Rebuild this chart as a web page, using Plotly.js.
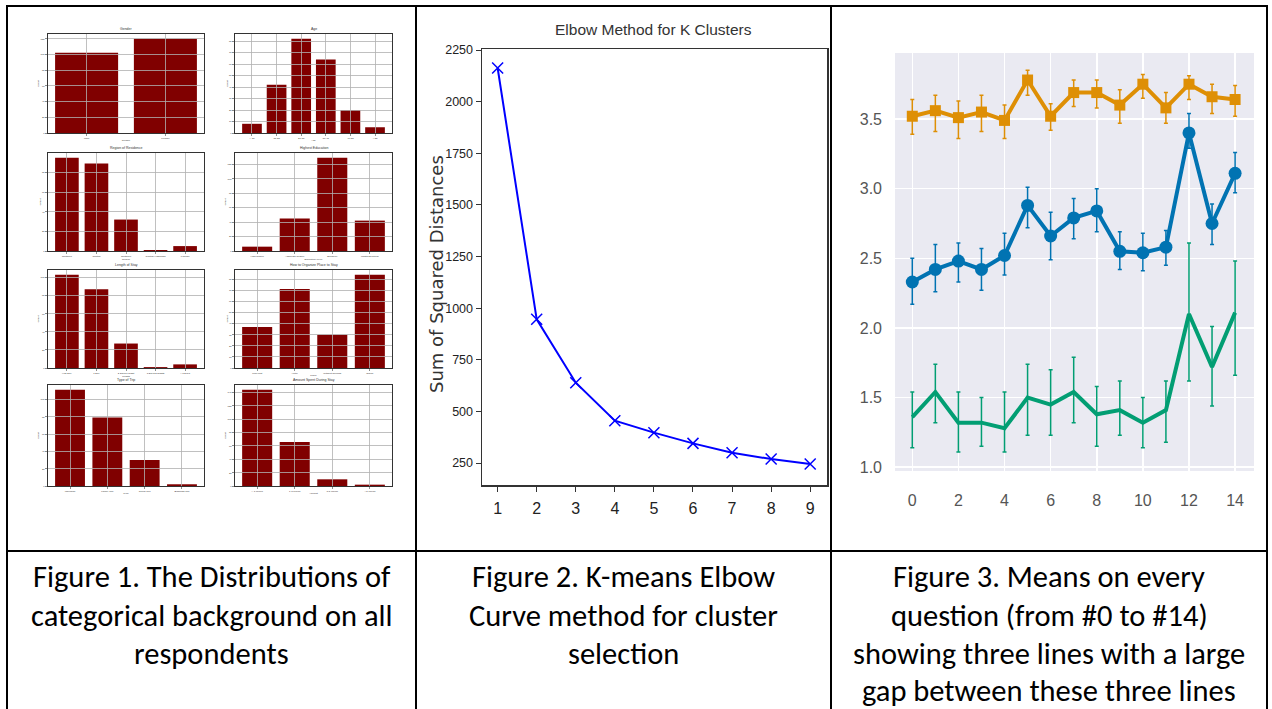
<!DOCTYPE html>
<html><head><meta charset="utf-8">
<script src="https://cdn.plot.ly/plotly-3.0.1.min.js"></script>
<style>html,body{margin:0;padding:0;background:#fff;overflow:hidden}#chart{width:1272px;height:709px}</style>
</head><body><div id="chart"></div>
<script>
// ---------- Figure 1 data (counts) ----------
const genderLabels = ['Male', 'Female'];
const genderCounts = [102, 120];
const ageLabels = ['< 18', '18-25', '26-35', '36-45', '46-55', '> 55'];
const ageCounts = [8, 42, 82, 64, 20, 5];
const regionLabels = ['Northern', 'Central', 'Southern', 'Central Highlands', 'Foreign'];
const regionCounts = [95, 89, 32, 1, 5];
const educationLabels = ['High School', 'Associate degree', 'Bachelor', 'Master/Doctoral'];
const educationCounts = [6, 45, 129, 42];
const stayLabels = ['Half Day', '1 Day', '2 Days/1 Night', '3 Days/2 Nights', '> 3 Days'];
const stayCounts = [103, 87, 27, 1, 4];
const placeLabels = ['Low-cost', 'Hotel', 'Without booking', 'Online'];
const placeCounts = [37, 71, 30, 84];
const tripLabels = ['Individual', 'Family Trip', 'Group Trip', 'Business Trip'];
const tripCounts = [111, 79, 30, 2];
const spendLabels = ['< 1 Million', '1-3 Million', '3-5 Million', '> 5 Million'];
const spendCounts = [144, 66, 10, 2];
const fig1Titles = ['Gender', 'Age', 'Region of Residence', 'Highest Education',
  'Length of Stay', 'How to Organize Place to Stay', 'Type of Trip', 'Amount Spent During Stay'];
const fig1XTitles = ['Gender', 'Age', 'Region', 'Education Level', 'Length', 'Place', 'Type', 'Amount'];

// ---------- Figure 2 data ----------
const kValues = [1, 2, 3, 4, 5, 6, 7, 8, 9];
const sseValues = [2163, 946, 639, 455, 397, 345, 300, 269, 245];
const elbowYTicks = [250, 500, 750, 1000, 1250, 1500, 1750, 2000, 2250];

// ---------- Figure 3 data ----------
const questions = [0,1,2,3,4,5,6,7,8,9,10,11,12,13,14];
const orangeMean  = [3.52,3.56,3.51,3.55,3.49,3.78,3.52,3.69,3.69,3.60,3.75,3.58,3.75,3.66,3.64];
const orangeUpper = [3.64,3.67,3.63,3.67,3.60,3.85,3.61,3.78,3.78,3.71,3.82,3.69,3.81,3.75,3.74];
const orangeLower = [3.39,3.41,3.36,3.41,3.36,3.67,3.42,3.59,3.58,3.47,3.65,3.47,3.64,3.54,3.52];
const blueMean  = [2.33,2.42,2.48,2.42,2.52,2.88,2.66,2.79,2.84,2.55,2.54,2.58,3.40,2.75,3.11];
const blueUpper = [2.50,2.60,2.61,2.57,2.68,3.01,2.83,2.93,3.00,2.69,2.68,2.70,3.54,2.89,3.26];
const blueLower = [2.17,2.26,2.33,2.27,2.38,2.72,2.49,2.64,2.69,2.42,2.41,2.45,3.29,2.60,2.97];
const greenMean  = [1.36,1.54,1.32,1.32,1.28,1.50,1.45,1.54,1.38,1.41,1.32,1.41,2.10,1.72,2.11];
const greenUpper = [1.54,1.74,1.54,1.50,1.54,1.74,1.70,1.79,1.58,1.62,1.50,1.62,2.61,2.01,2.48];
const greenLower = [1.14,1.32,1.11,1.15,1.11,1.23,1.23,1.32,1.15,1.23,1.14,1.18,1.62,1.44,1.66];

// ---------- Captions ----------
const caption1 = ['Figure 1. The Distributions of', 'categorical background on all', 'respondents'];
const caption2 = ['Figure 2. K-means Elbow', 'Curve method for cluster', 'selection'];
const caption3 = ['Figure 3. Means on every', 'question (from #0 to #14)', 'showing three lines with a large', 'gap between these three lines'];

// ---------- helpers ----------
const W = 1272, H = 709;
const px = x => x / W;
const py = y => 1 - y / H;
const SANS = '"Liberation Sans", Arial, sans-serif';
const CAPFONT = 'Carlito, Calibri, Lato, "Open Sans", sans-serif';

const panels = [
  [genderLabels, genderCounts, 20], [ageLabels, ageCounts, 10],
  [regionLabels, regionCounts, 20], [educationLabels, educationCounts, 20],
  [stayLabels, stayCounts, 20], [placeLabels, placeCounts, 10],
  [tripLabels, tripCounts, 20], [spendLabels, spendCounts, 20]
];
const colsPx = [[48, 204], [235, 392]];
const rowsPx = [[34, 133], [153, 251], [270, 368], [385, 486]];

const data = [];
const layout = {
  width: W, height: H, margin: {l: 0, r: 0, t: 0, b: 0},
  paper_bgcolor: '#ffffff', plot_bgcolor: 'rgba(0,0,0,0)',
  showlegend: false, font: {family: SANS, color: '#333'},
  shapes: [], annotations: []
};

panels.forEach((p, i) => {
  const [labels, counts, dt] = p;
  const n = labels.length;
  const idx = i + 1, gidx = i + 11;
  const c = colsPx[i % 2], r = rowsPx[Math.floor(i / 2)];
  const xs = labels.map((_, k) => k);
  const pad = 0.05 * (n - 0.2);
  const xr = [-0.4 - pad, n - 1 + 0.4 + pad];
  const ymax = Math.max(...counts) * 1.05;
  const yt = [];
  for (let v = dt; v < ymax; v += dt) yt.push(v);
  const xd = [px(c[0]), px(c[1])], yd = [py(r[1]), py(r[0])];
  data.push({type: 'bar', x: xs, y: counts, xaxis: 'x' + idx, yaxis: 'y' + idx,
    width: 0.8, marker: {color: '#800000', line: {width: 0}}, hoverinfo: 'skip'});
  data.push({type: 'scatter', x: [], y: [], xaxis: 'x' + gidx, yaxis: 'y' + gidx, hoverinfo: 'skip'});
  layout['xaxis' + idx] = {domain: xd, anchor: 'y' + idx, range: xr, tickmode: 'array',
    tickvals: xs, ticktext: labels, tickfont: {size: 2.5, color: '#333'}, ticks: 'outside',
    ticklen: 1.5, tickwidth: 0.6, showgrid: false, zeroline: false, showline: true, mirror: true,
    linecolor: '#333', linewidth: 1.3, title: {text: fig1XTitles[i], font: {size: 2.5}, standoff: 0}};
  layout['yaxis' + idx] = {domain: yd, anchor: 'x' + idx, range: [0, ymax], tick0: 0, dtick: dt,
    tickfont: {size: 2.5, color: '#333'}, ticks: 'outside', ticklen: 1.5, tickwidth: 0.6,
    showgrid: false, zeroline: false, showline: true, mirror: true, linecolor: '#333', linewidth: 1.3,
    title: {text: 'Count', font: {size: 2.5}, standoff: 1}};
  layout['xaxis' + gidx] = {domain: xd, anchor: 'y' + gidx, range: xr, tickmode: 'array', tickvals: xs,
    showticklabels: false, ticks: '', showgrid: true, gridcolor: '#b0b0b0', gridwidth: 0.8,
    zeroline: false, showline: false};
  layout['yaxis' + gidx] = {domain: yd, anchor: 'x' + gidx, range: [0, ymax], tickmode: 'array', tickvals: yt,
    showticklabels: false, ticks: '', showgrid: true, gridcolor: '#b0b0b0', gridwidth: 0.8,
    zeroline: false, showline: false};
  layout.annotations.push({xref: 'paper', yref: 'paper', x: px((c[0] + c[1]) / 2), y: py(r[0] - 1),
    xanchor: 'center', yanchor: 'bottom', showarrow: false, text: fig1Titles[i],
    font: {size: 3.5, color: '#333'}});
});

// ---------- Figure 2 ----------
data.push({type: 'scatter', mode: 'lines+markers', x: kValues, y: sseValues, xaxis: 'x9', yaxis: 'y9',
  line: {color: '#0000ff', width: 2}, marker: {symbol: 'x-thin', size: 11, color: '#0000ff',
  line: {color: '#0000ff', width: 1.5}}, hoverinfo: 'skip'});
layout.xaxis9 = {domain: [px(482), px(827)], anchor: 'y9', range: [0.6, 9.43], tickmode: 'array',
  tickvals: kValues, ticks: 'outside', ticklen: 5, tickcolor: '#333', showgrid: false, zeroline: false,
  showline: true, mirror: true, linecolor: '#333', linewidth: 1.5, ticklabelstandoff: 3,
  tickfont: {family: SANS, size: 16, color: '#222'}};
layout.yaxis9 = {domain: [py(485), py(49)], anchor: 'x9', range: [143.5, 2255], tickmode: 'array',
  tickvals: elbowYTicks, ticks: 'outside', ticklen: 5, tickcolor: '#333', showgrid: false, zeroline: false,
  showline: true, mirror: true, linecolor: '#333', linewidth: 1.5,
  tickfont: {family: SANS, size: 12.5, color: '#222'}};
layout.annotations.push({xref: 'paper', yref: 'paper', x: px(653), y: py(29), xanchor: 'center',
  yanchor: 'middle', showarrow: false, text: 'Elbow Method for K Clusters',
  font: {family: SANS, size: 15.5, color: '#333'}});
layout.annotations.push({xref: 'paper', yref: 'paper', x: px(436), y: py(274), xanchor: 'center',
  yanchor: 'middle', showarrow: false, textangle: -90, text: 'Sum of Squared Distances',
  font: {family: '"DejaVu Sans", Verdana, sans-serif', size: 18, color: '#333'}});

// ---------- Figure 3 ----------
function errTrace(mean, up, lo, color, mode, sym, size) {
  return {type: 'scatter', mode: mode, x: questions, y: mean, xaxis: 'x10', yaxis: 'y10',
    line: {color: color, width: 4}, marker: {symbol: sym, size: size, color: color},
    error_y: {type: 'data', symmetric: false, array: up.map((u, k) => u - mean[k]),
      arrayminus: lo.map((l, k) => mean[k] - l), color: color, thickness: 1.5, width: 2},
    hoverinfo: 'skip'};
}
data.push(errTrace(blueMean, blueUpper, blueLower, '#0173b2', 'lines+markers', 'circle', 13));
data.push(errTrace(orangeMean, orangeUpper, orangeLower, '#de8f05', 'lines+markers', 'square', 11));
data.push(errTrace(greenMean, greenUpper, greenLower, '#029e73', 'lines', 'circle', 1));
layout.xaxis10 = {domain: [px(895), px(1254)], anchor: 'y10', range: [-0.75, 14.82], tick0: 0, dtick: 2,
  showgrid: true, gridcolor: '#ffffff', gridwidth: 1.5, zeroline: false, showline: false, ticks: '',
  ticklabelstandoff: 18, tickfont: {family: SANS, size: 16, color: '#555'}};
layout.yaxis10 = {domain: [py(471), py(53)], anchor: 'x10', range: [0.973, 3.974], tick0: 1, dtick: 0.5,
  tickformat: '.1f', showgrid: true, gridcolor: '#ffffff', gridwidth: 1.5, zeroline: false,
  showline: false, ticks: '', ticklabelstandoff: 12, tickfont: {family: SANS, size: 16, color: '#555'}};
layout.shapes.push({type: 'rect', xref: 'paper', yref: 'paper', x0: px(895), x1: px(1254),
  y0: py(471), y1: py(53), fillcolor: '#eaeaf2', line: {width: 0}, layer: 'below'});

// ---------- Table borders ----------
const hLines = [[6, 6, 1268], [551, 7, 1267]];
const vLines = [[7, 6, 709], [416, 6, 709], [831, 6, 709], [1267, 6, 709]];
hLines.forEach(([y, x0, x1]) => layout.shapes.push({type: 'line', xref: 'paper', yref: 'paper',
  x0: px(x0), x1: px(x1), y0: py(y), y1: py(y), line: {color: '#000', width: 2}, layer: 'above'}));
vLines.forEach(([x, y0, y1]) => layout.shapes.push({type: 'line', xref: 'paper', yref: 'paper',
  x0: px(x), x1: px(x), y0: py(y0), y1: py(y1), line: {color: '#000', width: 2}, layer: 'above'}));

// ---------- Captions ----------
const lineY = [576, 615, 653.5, 690.5];
[[caption1, 211.5], [caption2, 623.5], [caption3, 1049]].forEach(([lines, cx]) => {
  lines.forEach((t, k) => layout.annotations.push({xref: 'paper', yref: 'paper', x: px(cx), y: py(lineY[k]),
    xanchor: 'center', yanchor: 'middle', showarrow: false, text: t,
    font: {family: CAPFONT, size: 30.5, color: '#000'}}));
});

Plotly.newPlot('chart', data, layout, {staticPlot: true, displayModeBar: false});
</script></body></html>
